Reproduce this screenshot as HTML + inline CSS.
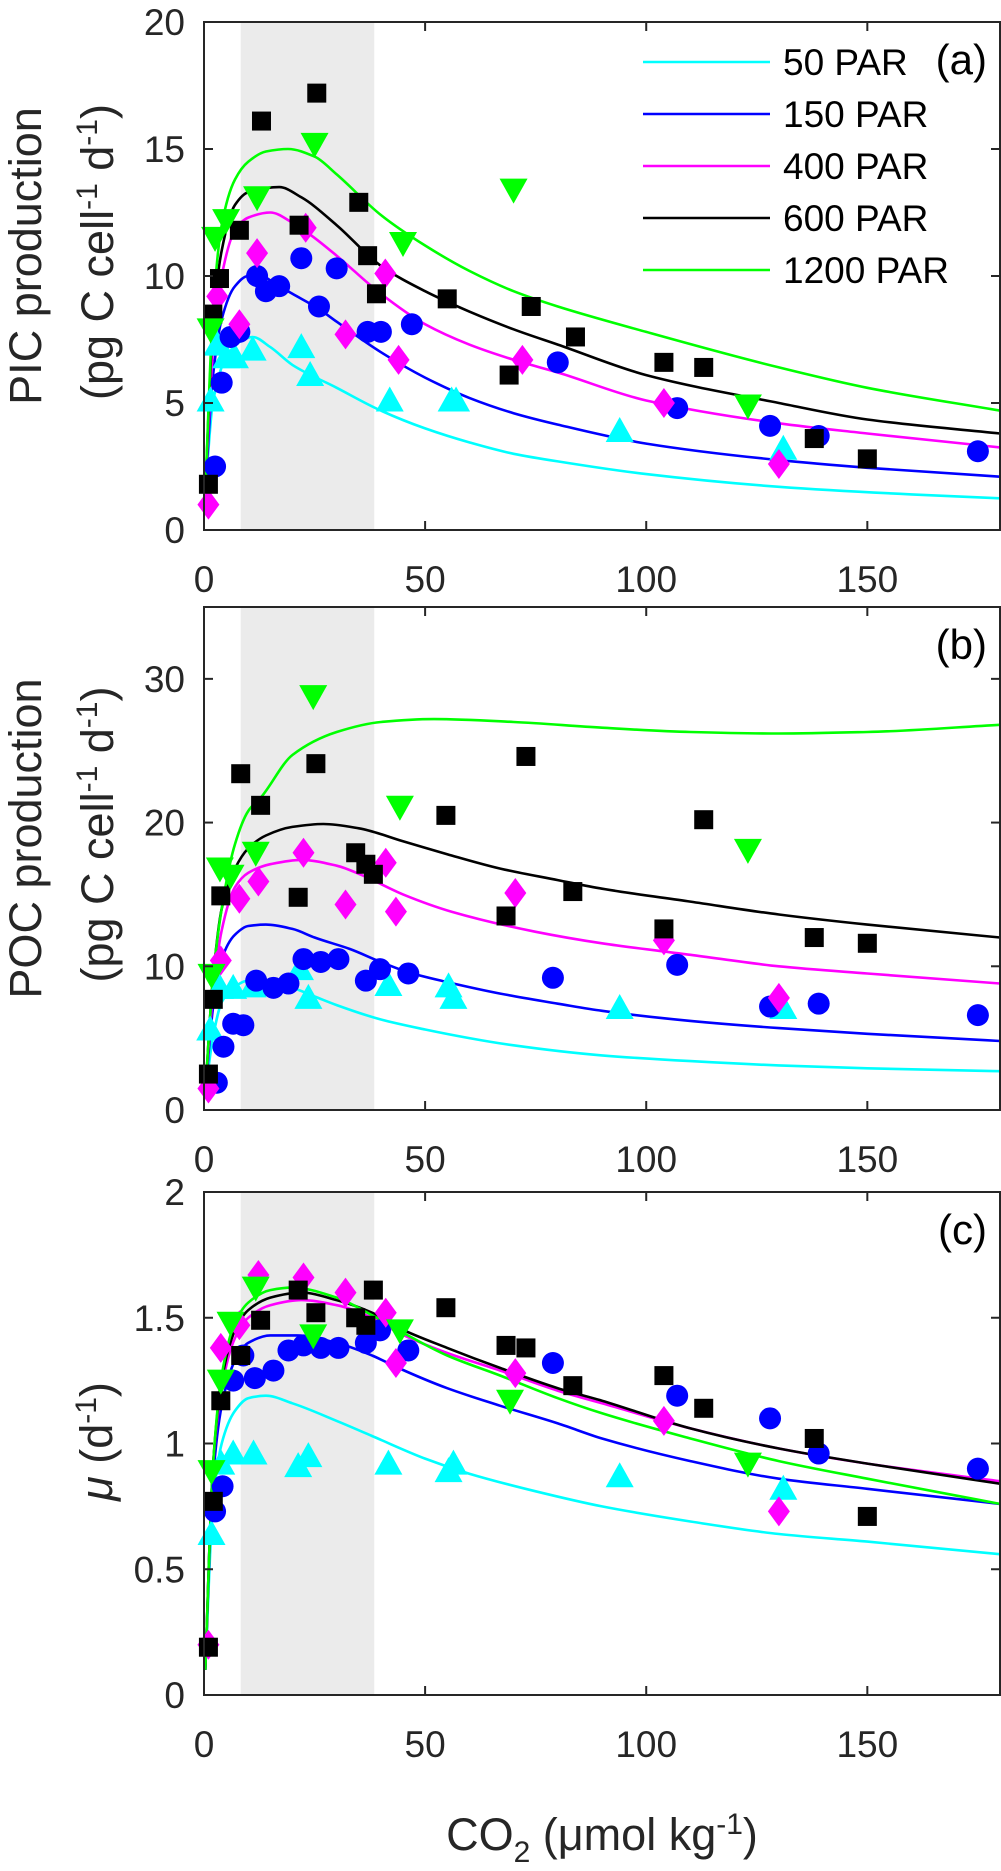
<!DOCTYPE html>
<html><head><meta charset="utf-8"><style>
html,body{margin:0;padding:0;background:#fff;}
svg{display:block;font-family:"Liberation Sans",Arial,sans-serif;}
</style></head><body>
<svg id="chart" width="1001" height="1871" viewBox="0 0 1001 1871"></svg>
<script>
// ---------- data ----------
const xTicks = [0, 50, 100, 150];
const picTicks = [0, 5, 10, 15, 20];
const pocTicks = [0, 10, 20, 30];
const muTicks = [0, 0.5, 1, 1.5, 2];
const muTickLabels = ['0', '0.5', '1', '1.5', '2'];
const shadeRange = [8.3, 38.5];
const legendLabels = ['50 PAR', '150 PAR', '400 PAR', '600 PAR', '1200 PAR'];

// Panel (a) PIC points
const picPts50 = [[1.5,5.1],[3,7.3],[5,6.8],[7,6.8],[11,7.1],[22,7.2],[24,6.1],[42,5.1],[56,5.1],[57,5.1],[94,3.9],[131,3.2]];
const picPts150 = [[2.5,2.5],[4,5.8],[6,7.6],[8,7.8],[12,10.0],[14,9.4],[17,9.6],[22,10.7],[26,8.8],[30,10.3],[37,7.8],[40,7.8],[47,8.1],[80,6.6],[107,4.8],[128,4.1],[139,3.7],[175,3.1]];
const picPts400 = [[1,1.0],[3,9.2],[8,8.1],[12,10.9],[23,11.9],[32,7.7],[41,10.1],[44,6.7],[72,6.7],[104,5.0],[130,2.6]];
const picPts600 = [[1,1.8],[2,8.5],[3.5,9.9],[8,11.8],[13,16.1],[21.5,12.0],[25.5,17.2],[35,12.9],[37,10.8],[39,9.3],[55,9.1],[69,6.1],[74,8.8],[84,7.6],[104,6.6],[113,6.4],[138,3.6],[150,2.8]];
const picPts1200 = [[1.5,7.9],[2.5,11.5],[5,12.2],[12,13.1],[25,15.2],[45,11.3],[70,13.4],[123,4.9]];
// Panel (a) fitted curves
const picCurve50 = [[0.3,1.5],[2,5],[5,6.8],[8,7.4],[11,7.6],[15,7.2],[20,6.5],[30,5.6],[40,4.7],[50,4.0],[60,3.45],[70,3.0],[80,2.7],[100,2.2],[130,1.7],[160,1.4],[180,1.25]];
const picCurve150 = [[0.3,1.5],[2,6],[4,8.3],[7,9.6],[10,10.0],[13,10.0],[16,9.7],[20,9.3],[26,8.7],[30,8.2],[40,7.0],[50,6.0],[60,5.2],[70,4.6],[80,4.15],[100,3.4],[130,2.75],[150,2.45],[180,2.1]];
const picCurve400 = [[0.3,1.5],[2,7],[4,10],[7,11.8],[10,12.3],[15,12.5],[20,12.1],[25,11.5],[30,10.8],[40,9.3],[50,8.1],[60,7.3],[70,6.7],[80,6.2],[100,5.1],[130,4.2],[150,3.8],[180,3.25]];
const picCurve600 = [[0.3,1.5],[2,8],[4,11],[7,12.8],[10,13.3],[17,13.5],[22,13.1],[30,12.0],[40,10.4],[50,9.4],[60,8.6],[70,7.9],[80,7.3],[100,6.1],[130,5.0],[150,4.35],[180,3.8]];
const picCurve1200 = [[0.3,1.5],[2,8.5],[4,12],[7,13.8],[10,14.5],[14,14.9],[19,15.0],[25,14.7],[30,14.0],[40,12.4],[50,11.2],[60,10.2],[70,9.4],[80,8.8],[100,7.8],[130,6.4],[150,5.6],[180,4.7]];

// Panel (b) POC points
const pocPts50 = [[1.4,5.6],[3.6,8.5],[6.6,8.5],[11,8.6],[21.7,9.8],[23.6,7.8],[41.7,8.7],[55.3,8.6],[56.4,7.8],[94,7.1],[131,7.1]];
const pocPts150 = [[2.9,1.9],[4.4,4.4],[6.6,6.0],[8.9,5.9],[11.8,9.0],[15.7,8.5],[19.1,8.8],[22.5,10.5],[26.4,10.3],[30.4,10.5],[36.6,9.0],[39.8,9.8],[46.2,9.5],[78.9,9.2],[107,10.1],[128,7.2],[139,7.4],[175,6.6]];
const pocPts400 = [[1,1.5],[3.8,10.4],[8,14.7],[12.3,15.9],[22.5,17.9],[32,14.3],[41.1,17.2],[43.4,13.8],[70.4,15.1],[104,11.8],[130,7.8]];
const pocPts600 = [[1,2.5],[2.1,7.7],[3.8,14.9],[8.3,23.4],[12.8,21.2],[21.3,14.8],[25.3,24.1],[34.3,17.9],[36.6,17.1],[38.3,16.4],[54.7,20.5],[72.8,24.6],[68.3,13.5],[83.4,15.2],[104,12.6],[113,20.2],[138,12.0],[150,11.6]];
const pocPts1200 = [[1.7,9.4],[3.6,16.8],[6,16.3],[11.7,17.9],[24.7,28.8],[44.3,21.1],[123,18.1]];
// Panel (b) fitted curves
const pocCurve50 = [[0.3,1.2],[2,5],[4,7.5],[7,8.6],[10,9.0],[15,8.9],[20,8.5],[25,7.9],[30,7.3],[40,6.3],[50,5.6],[60,5.0],[70,4.5],[90,3.8],[110,3.4],[130,3.1],[150,2.9],[180,2.7]];
const pocCurve150 = [[0.3,1.2],[2,7],[4,10.5],[7,12.2],[10,12.8],[14,12.9],[20,12.6],[25,12.0],[33,11.2],[40,10.3],[46,9.6],[55,8.9],[67,8.1],[80,7.4],[90,6.9],[110,6.2],[130,5.7],[150,5.3],[180,4.8]];
const pocCurve400 = [[0.3,1.2],[2,8],[4,12.5],[7,15.5],[10,16.5],[15,17.1],[22,17.4],[30,17.0],[36,16.3],[45,15.0],[56,13.8],[75,12.4],[90,11.6],[110,10.8],[130,10.0],[150,9.5],[180,8.8]];
const pocCurve600 = [[0.3,1.2],[2,9],[4,14],[7,16.8],[10,18.2],[14,19.1],[20,19.7],[27,19.9],[35,19.6],[45,18.7],[55,17.8],[67,16.8],[80,16.0],[90,15.4],[110,14.5],[130,13.6],[150,12.9],[180,12.0]];
const pocCurve1200 = [[0.3,1.2],[2,9],[4,14],[7,18.5],[10,20.8],[13,21.8],[20,24.7],[30,26.3],[40,27.0],[52,27.2],[70,27.0],[90,26.6],[110,26.3],[130,26.2],[150,26.3],[180,26.8]];

// Panel (c) growth-rate points
const muPts50 = [[1.7,0.64],[3.9,0.92],[6.6,0.96],[11.2,0.96],[21.3,0.91],[23.6,0.95],[41.7,0.92],[55.3,0.89],[56.4,0.92],[94,0.87],[131,0.82]];
const muPts150 = [[2.5,0.73],[4.2,0.83],[6.6,1.25],[8.9,1.35],[11.5,1.26],[15.7,1.29],[19.1,1.37],[22.5,1.39],[26.4,1.38],[30.4,1.38],[36.6,1.40],[39.8,1.45],[46.2,1.37],[78.9,1.32],[107,1.19],[128,1.10],[139,0.96],[175,0.90]];
const muPts400 = [[1,0.20],[3.8,1.38],[8,1.47],[12.3,1.67],[22.5,1.66],[32,1.60],[41.1,1.52],[43.4,1.32],[70.4,1.28],[104,1.09],[130,0.73]];
const muPts600 = [[1,0.19],[2.1,0.77],[3.8,1.17],[8.3,1.35],[12.8,1.49],[21.3,1.61],[25.3,1.52],[34.3,1.50],[36.6,1.47],[38.3,1.61],[54.7,1.54],[68.3,1.39],[72.8,1.38],[83.4,1.23],[104,1.27],[113,1.14],[138,1.02],[150,0.71]];
const muPts1200 = [[1.7,0.89],[3.8,1.25],[6,1.48],[11.7,1.62],[24.7,1.43],[44.3,1.45],[69.2,1.17],[123,0.92]];
// Panel (c) fitted curves
const muCurve50 = [[0.3,0.1],[2,0.75],[4,1.0],[7,1.13],[10,1.18],[14,1.19],[20,1.16],[30,1.09],[38,1.03],[50,0.94],[60,0.88],[75,0.81],[90,0.75],[110,0.69],[130,0.64],[150,0.61],[180,0.56]];
const muCurve150 = [[0.3,0.1],[2,0.85],[4,1.15],[7,1.33],[10,1.40],[15,1.43],[21,1.43],[30,1.40],[38,1.35],[44,1.30],[55,1.22],[67,1.15],[80,1.08],[90,1.02],[110,0.93],[130,0.86],[150,0.82],[180,0.76]];
const muCurve400 = [[0.3,0.1],[2,0.9],[4,1.22],[7,1.42],[10,1.50],[15,1.55],[22,1.57],[30,1.55],[38,1.50],[44,1.44],[55,1.36],[67,1.29],[80,1.21],[90,1.16],[110,1.06],[130,0.98],[150,0.92],[180,0.85]];
const muCurve600 = [[0.3,0.1],[2,0.9],[4,1.25],[7,1.45],[10,1.53],[15,1.58],[22,1.60],[30,1.57],[38,1.52],[44,1.46],[55,1.38],[67,1.30],[80,1.22],[90,1.17],[110,1.06],[130,0.98],[150,0.92],[180,0.84]];
const muCurve1200 = [[0.3,0.1],[2,0.9],[4,1.27],[7,1.48],[10,1.56],[15,1.61],[20,1.62],[30,1.58],[38,1.51],[44,1.45],[55,1.35],[67,1.27],[80,1.18],[90,1.12],[110,1.02],[130,0.93],[150,0.86],[180,0.76]];

// ---------- rendering ----------
const NS = 'http://www.w3.org/2000/svg';
const svg = document.getElementById('chart');
const colors = ['#00ffff', '#0000ff', '#ff00ff', '#000000', '#00ff00'];
const markers = ['tri-up', 'circle', 'diamond', 'square', 'tri-down'];
const AX_L = 204, AX_R = 1000, X_MAX = 180;
const AXC = '#262626';
function X(v) { return AX_L + v * (AX_R - AX_L) / X_MAX; }
function mk(tag, attrs, parent) {
  const e = document.createElementNS(NS, tag);
  for (const k in attrs) e.setAttribute(k, attrs[k]);
  (parent || svg).appendChild(e);
  return e;
}
// monotone cubic (Fritsch-Carlson) path through pixel points
function pathFrom(pts) {
  const n = pts.length;
  const dx = [], s = [];
  for (let i = 0; i < n - 1; i++) {
    dx.push(pts[i + 1][0] - pts[i][0]);
    s.push((pts[i + 1][1] - pts[i][1]) / dx[i]);
  }
  const m = [s[0]];
  for (let i = 1; i < n - 1; i++) {
    if (s[i - 1] * s[i] <= 0) m.push(0);
    else {
      const w1 = 2 * dx[i] + dx[i - 1], w2 = dx[i] + 2 * dx[i - 1];
      m.push((w1 + w2) / (w1 / s[i - 1] + w2 / s[i]));
    }
  }
  m.push(s[n - 2]);
  let d = 'M' + pts[0][0].toFixed(1) + ',' + pts[0][1].toFixed(1);
  for (let i = 0; i < n - 1; i++) {
    const h = dx[i] / 3;
    d += ' C' + (pts[i][0] + h).toFixed(1) + ',' + (pts[i][1] + m[i] * h).toFixed(1) + ' ' +
      (pts[i + 1][0] - h).toFixed(1) + ',' + (pts[i + 1][1] - m[i + 1] * h).toFixed(1) + ' ' +
      pts[i + 1][0].toFixed(1) + ',' + pts[i + 1][1].toFixed(1);
  }
  return d;
}
function drawMarker(g, type, cx, cy, color) {
  let e;
  if (type === 'circle') e = mk('circle', {cx: cx, cy: cy, r: 11, fill: color}, g);
  else if (type === 'square') e = mk('rect', {x: cx - 9.5, y: cy - 9.5, width: 19, height: 19, fill: color}, g);
  else if (type === 'diamond') e = mk('polygon', {points: `${cx},${cy-15} ${cx+11},${cy} ${cx},${cy+15} ${cx-11},${cy}`, fill: color}, g);
  else if (type === 'tri-up') e = mk('polygon', {points: `${cx},${cy-14} ${cx+14},${cy+11} ${cx-14},${cy+11}`, fill: color}, g);
  else e = mk('polygon', {points: `${cx-14},${cy-11} ${cx+14},${cy-11} ${cx},${cy+14}`, fill: color}, g);
  
  
}

const panels = [
  {id: 'pic', letter: '(a)', top: 22, bottom: 530, ymax: 20, ticks: picTicks, tickLabels: picTicks.map(String),
   pts: [picPts50, picPts150, picPts400, picPts600, picPts1200], curves: [picCurve50, picCurve150, picCurve400, picCurve600, picCurve1200],
   ylab1: 'PIC production'},
  {id: 'poc', letter: '(b)', top: 607, bottom: 1110, ymax: 35, ticks: pocTicks, tickLabels: pocTicks.map(String),
   pts: [pocPts50, pocPts150, pocPts400, pocPts600, pocPts1200], curves: [pocCurve50, pocCurve150, pocCurve400, pocCurve600, pocCurve1200],
   ylab1: 'POC production'},
  {id: 'mu', letter: '(c)', top: 1192, bottom: 1695, ymax: 2, ticks: muTicks, tickLabels: muTickLabels,
   pts: [muPts50, muPts150, muPts400, muPts600, muPts1200], curves: [muCurve50, muCurve150, muCurve400, muCurve600, muCurve1200],
   ylab1: null}
];

panels.forEach(p => {
  const Y = v => p.bottom - v * (p.bottom - p.top) / p.ymax;
  const g = mk('g', {});
  
  
  const sh = mk('rect', {x: X(shadeRange[0]), y: p.top, width: X(shadeRange[1]) - X(shadeRange[0]), height: p.bottom - p.top, fill: '#ebebeb'}, g);
  
  
  const cid = 'clip-' + p.id;
  const cp = mk('clipPath', {id: cid}, g);
  mk('rect', {x: AX_L, y: p.top, width: AX_R - AX_L, height: p.bottom - p.top}, cp);
  const plot = mk('g', {'clip-path': 'url(#' + cid + ')'}, g);
  p.curves.forEach((c, i) => {
    const path = mk('path', {d: pathFrom(c.map(q => [X(q[0]), Y(q[1])])), fill: 'none', stroke: colors[i], 'stroke-width': 2.6}, plot);
    
    
  });
  p.pts.forEach((s, i) => {
    const sg = mk('g', {}, g);
    
    
    s.forEach(q => drawMarker(sg, markers[i], X(q[0]), Y(q[1]), colors[i]));
  });
  const box = mk('rect', {x: AX_L, y: p.top, width: AX_R - AX_L, height: p.bottom - p.top, fill: 'none', stroke: AXC, 'stroke-width': 2}, g);
  
  
  xTicks.forEach(t => {
    const x = X(t);
    mk('line', {x1: x, x2: x, y1: p.bottom, y2: p.bottom - 9, stroke: AXC, 'stroke-width': 2}, g);
    mk('line', {x1: x, x2: x, y1: p.top, y2: p.top + 9, stroke: AXC, 'stroke-width': 2}, g);
    const tl = mk('text', {x: x, y: p.bottom + 62, 'text-anchor': 'middle', 'font-size': 37, fill: AXC}, g);
    tl.textContent = String(t);
    
    
  });
  p.ticks.forEach((t, k) => {
    const y = Y(t);
    mk('line', {x1: AX_L, x2: AX_L + 9, y1: y, y2: y, stroke: AXC, 'stroke-width': 2}, g);
    mk('line', {x1: AX_R, x2: AX_R - 9, y1: y, y2: y, stroke: AXC, 'stroke-width': 2}, g);
    const tl = mk('text', {x: 185, y: y + 13, 'text-anchor': 'end', 'font-size': 37, fill: AXC}, g);
    tl.textContent = p.tickLabels[k];
    
    
  });
  const lt = mk('text', {x: 987, y: p.top + 52, 'text-anchor': 'end', 'font-size': 42, fill: '#000'}, g);
  lt.textContent = p.letter;
  
  
  const cy = (p.top + p.bottom) / 2 - 20;
  if (p.ylab1) {
    const t1 = mk('text', {x: 0, y: 0, transform: `translate(41,${cy}) rotate(-90)`, 'text-anchor': 'middle', 'font-size': 45, fill: AXC}, g);
    t1.textContent = p.ylab1;
    
    
    const t2 = mk('text', {x: 0, y: 0, transform: `translate(113,${cy - 4}) rotate(-90)`, 'text-anchor': 'middle', 'font-size': 45, fill: AXC}, g);
    t2.innerHTML = '(pg C cell<tspan dy="-16" font-size="30">-1</tspan><tspan dy="16"> d</tspan><tspan dy="-16" font-size="30">-1</tspan><tspan dy="16">)</tspan>';
    
    
  } else {
    const t = mk('text', {x: 0, y: 0, transform: `translate(112,${(p.top + p.bottom) / 2 - 2}) rotate(-90)`, 'text-anchor': 'middle', 'font-size': 45, fill: AXC}, g);
    t.innerHTML = '<tspan font-style="italic">μ</tspan> (d<tspan dy="-16" font-size="30">-1</tspan><tspan dy="16">)</tspan>';
    
    
  }
});

const lg = mk('g', {});


legendLabels.forEach((lab, i) => {
  const y = 62 + i * 52;
  const ln = mk('line', {x1: 643, x2: 770, y1: y, y2: y, stroke: colors[i], 'stroke-width': 2.6}, lg);
  
  
  const t = mk('text', {x: 783, y: y + 13, 'font-size': 37, fill: '#000'}, lg);
  t.textContent = lab;
  
  
});

const xt = mk('text', {x: 602, y: 1850, 'text-anchor': 'middle', 'font-size': 45, fill: AXC});
xt.innerHTML = 'CO<tspan dy="12" font-size="30">2</tspan><tspan dy="-12"> (μmol kg</tspan><tspan dy="-16" font-size="30">-1</tspan><tspan dy="16">)</tspan>';


</script>
</body></html>
